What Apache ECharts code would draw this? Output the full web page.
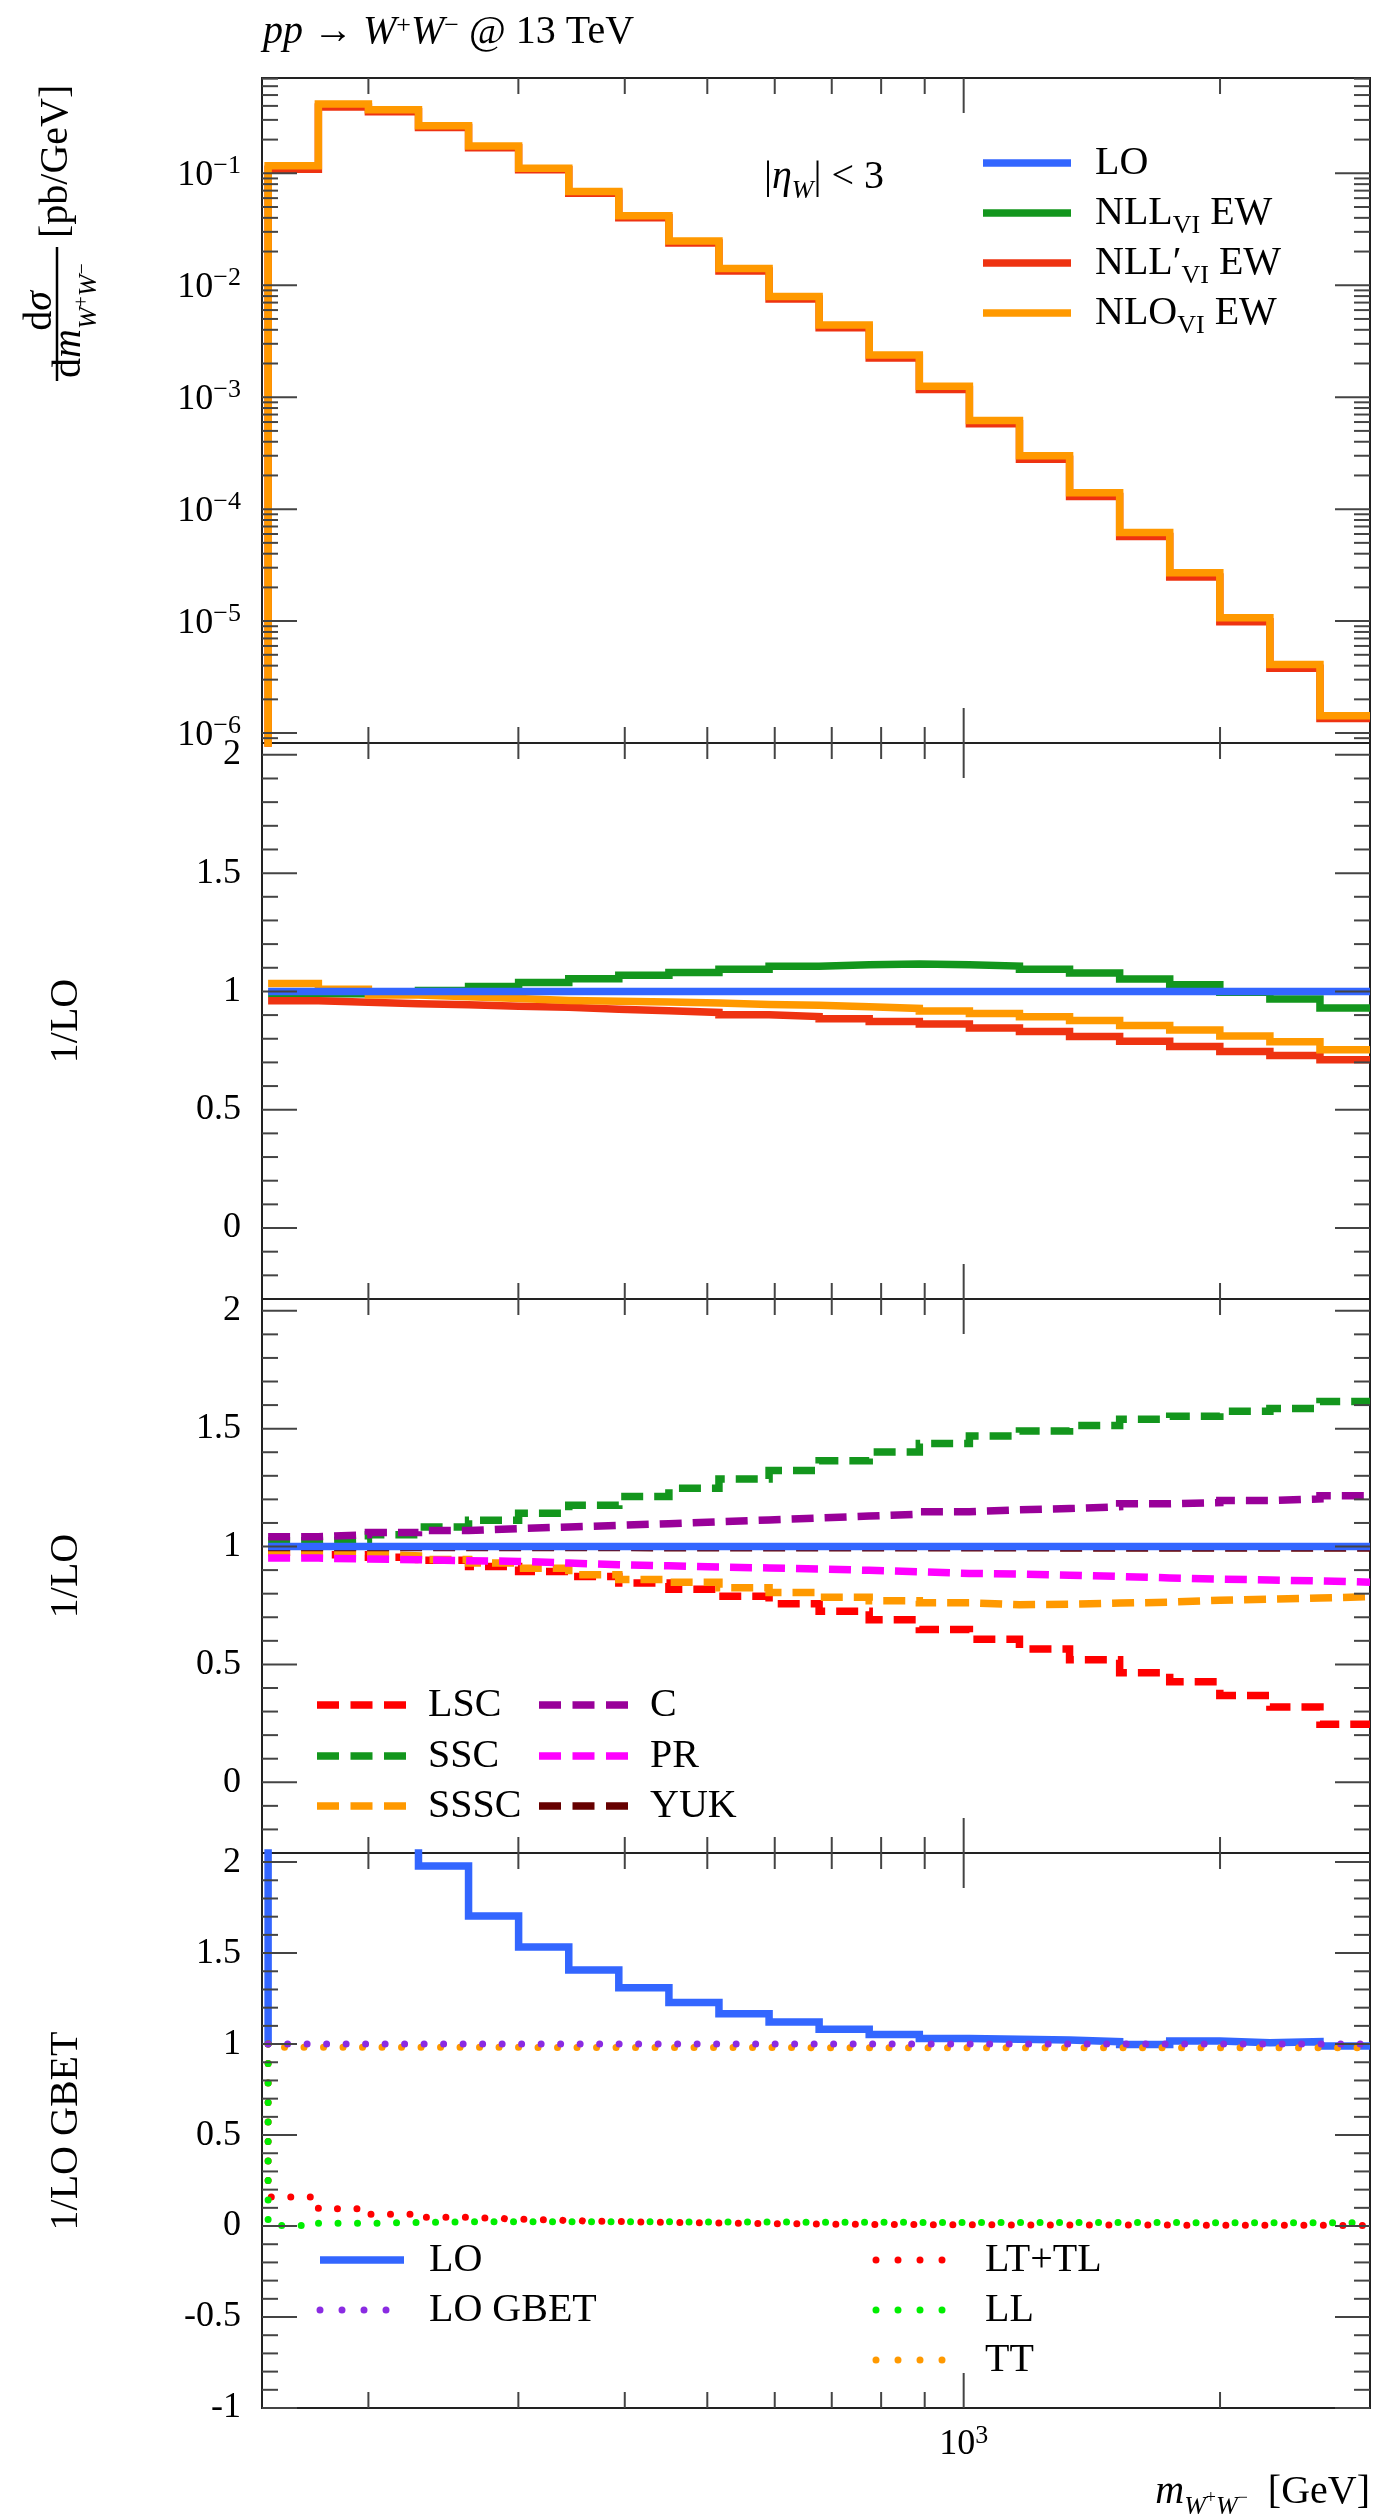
<!DOCTYPE html>
<html>
<head>
<meta charset="utf-8">
<title>pp → W+W− @ 13 TeV</title>
<script src="https://cdn.jsdelivr.net/npm/echarts@6.0.0/dist/echarts.min.js"></script>
<style>
html, body { margin: 0; padding: 0; background: #fff; }
#chart { width: 1373px; height: 2518px; }
</style>
</head>
<body>
<div id="chart"></div>
<script>
// ---------- binning in m(W+W-) [GeV], logarithmic ----------
const binEdges = [152.5, 174.7, 200, 229.0, 262.2, 300.2, 343.8, 393.6, 450.7, 516.0, 590.9,
  676.5, 774.6, 887.0, 1015.6, 1162.8, 1331.5, 1524.6, 1745.6, 1998.8, 2288.6, 2620.4, 3000];

// ---------- panel 1: dsigma/dm [pb/GeV] ----------
const xsecNLLprime = [0.1086, 0.392, 0.3555, 0.2568, 0.1687, 0.1077, 0.0664, 0.0401, 0.0238, 0.01344, 0.00752,
  0.00418, 0.002235, 0.001172, 5.78e-4, 2.79e-4, 1.296e-4, 5.71e-5, 2.48e-5, 9.85e-6, 3.80e-6, 1.35e-6];
const xsecNLO = [0.117, 0.415, 0.369, 0.266, 0.175, 0.111, 0.0688, 0.0417, 0.0248, 0.0141, 0.00792,
  0.00442, 0.00238, 0.00125, 6.2e-4, 3.0e-4, 1.4e-4, 6.2e-5, 2.7e-5, 1.07e-5, 4.1e-6, 1.43e-6];

// ---------- panel 2: ratio to LO ----------
const ratioLO = [1, 1, 1, 1, 1, 1, 1, 1, 1, 1, 1, 1, 1, 1, 1, 1, 1, 1, 1, 1, 1, 1];
const ratioNLL = [0.99, 0.99, 0.995, 1.004, 1.021, 1.038, 1.054, 1.068, 1.08, 1.094, 1.106,
  1.113, 1.116, 1.113, 1.107, 1.094, 1.078, 1.052, 1.028, 0.997, 0.968, 0.93];
const ratioNLLprime = [0.961, 0.954, 0.948, 0.944, 0.937, 0.933, 0.925, 0.918, 0.911, 0.901, 0.894,
  0.884, 0.873, 0.862, 0.845, 0.831, 0.81, 0.789, 0.767, 0.746, 0.729, 0.711];
const ratioNLO = [1.034, 1.009, 0.985, 0.978, 0.97, 0.962, 0.958, 0.955, 0.951, 0.945, 0.942,
  0.935, 0.928, 0.917, 0.907, 0.893, 0.877, 0.856, 0.837, 0.812, 0.787, 0.753];

// ---------- panel 3: single EW corrections / LO ----------
const corrLO = [1, 1, 1, 1, 1, 1, 1, 1, 1, 1, 1, 1, 1, 1, 1, 1, 1, 1, 1, 1, 1, 1];
const corrLSC = [0.975, 0.965, 0.955, 0.942, 0.915, 0.894, 0.873, 0.845, 0.819, 0.789, 0.757,
  0.725, 0.689, 0.648, 0.607, 0.565, 0.52, 0.465, 0.426, 0.368, 0.319, 0.246];
const corrSSC = [1.025, 1.03, 1.05, 1.083, 1.111, 1.141, 1.175, 1.212, 1.247, 1.286, 1.323,
  1.364, 1.401, 1.437, 1.469, 1.49, 1.513, 1.54, 1.553, 1.574, 1.586, 1.615];
const corrSSSC = [0.975, 0.968, 0.96, 0.945, 0.93, 0.908, 0.88, 0.86, 0.848, 0.825, 0.805,
  0.785, 0.77, 0.761, 0.753, 0.755, 0.76, 0.764, 0.772, 0.777, 0.782, 0.787];
const corrC = [1.042, 1.05, 1.059, 1.068, 1.076, 1.083, 1.09, 1.097, 1.105, 1.113, 1.121,
  1.129, 1.137, 1.148, 1.156, 1.161, 1.169, 1.181, 1.186, 1.195, 1.202, 1.215];
const corrPR = [0.951, 0.947, 0.944, 0.94, 0.937, 0.93, 0.923, 0.918, 0.913, 0.909, 0.905,
  0.899, 0.893, 0.886, 0.883, 0.878, 0.873, 0.867, 0.862, 0.858, 0.854, 0.849];
const corrYUK = [0.996, 0.996, 0.996, 0.996, 0.996, 0.996, 0.996, 0.995, 0.995, 0.995, 0.995,
  0.995, 0.995, 0.995, 0.995, 0.994, 0.994, 0.994, 0.994, 0.994, 0.994, 0.994];

// ---------- panel 4: polarised pieces / LO GBET ----------
const gbetLO = [3.2, 2.7, 2.3, 1.979, 1.704, 1.534, 1.407, 1.31, 1.228, 1.167, 1.121,
  1.081, 1.053, 1.031, 1.026, 1.022, 1.013, 0.998, 1.017, 1.007, 1.013, 0.989];
const gbetLOGBET = [1, 1, 1, 1, 1, 1, 1, 1, 1, 1, 1, 1, 1, 1, 1, 1, 1, 1, 1, 1, 1, 1];
const gbetLTTL = [0.16, 0.095, 0.065, 0.048, 0.038, 0.03, 0.025, 0.02, 0.016, 0.013, 0.011,
  0.009, 0.008, 0.007, 0.006, 0.006, 0.005, 0.005, 0.004, 0.004, 0.004, 0.003];
const gbetLL = [0.003, 0.015, 0.02, 0.023, 0.024, 0.024, 0.024, 0.023, 0.022, 0.022, 0.021,
  0.021, 0.02, 0.02, 0.02, 0.019, 0.019, 0.019, 0.018, 0.018, 0.018, 0.018];
const gbetTT = [0.983, 0.982, 0.982, 0.982, 0.982, 0.981, 0.981, 0.981, 0.981, 0.981, 0.98,
  0.98, 0.98, 0.98, 0.98, 0.98, 0.98, 0.98, 0.98, 0.98, 0.98, 0.98];
const gbetStart = 1;      // ratio below the first bin
const xsecStart = 1e-8;   // empty region below threshold

// ---------- axis ticks ----------
const xMinorTicks = [200, 300, 400, 500, 600, 700, 800, 900, 2000];
const xMajorTicks = [1000];
const xMajorLabels = [['10', '3']];
const logYMajor = [1e-6, 1e-5, 1e-4, 1e-3, 1e-2, 1e-1];
const logYLabels = [['10', '−6'], ['10', '−5'], ['10', '−4'], ['10', '−3'], ['10', '−2'], ['10', '−1']];
const ratioYMajor = [0, 0.5, 1, 1.5, 2];
const ratioYLabels = ['0', '0.5', '1', '1.5', '2'];
const gbetYMajor = [-1, -0.5, 0, 0.5, 1, 1.5, 2];
const gbetYLabels = ['-1', '-0.5', '0', '0.5', '1', '1.5', '2'];

// ---------- layout ----------
const X_MIN = 150, X_MAX = 3000;
const PLOT_LEFT = 262, PLOT_WIDTH = 1108;
const panels = [
  { top: 78, bottom: 743, type: 'log', min: 8.15e-7, max: 0.71 },
  { top: 743, bottom: 1299, type: 'value', min: -0.3, max: 2.05 },
  { top: 1299, bottom: 1853, type: 'value', min: -0.3, max: 2.05 },
  { top: 1853, bottom: 2408, type: 'value', min: -1, max: 2.05 }
];
const MAJOR_LEN = 35, MINOR_LEN = 16;
const FONT = '"Liberation Serif", "Times New Roman", serif';

const STY = {
  LO:      { color: '#3366ff', width: 7.5 },
  NLL:     { color: '#13961d', width: 7.5 },
  NLLp:    { color: '#ee3311', width: 7.5 },
  NLO:     { color: '#ff9900', width: 7.5 },
  LSC:     { color: '#ff0000', width: 7.5, dash: [22, 11] },
  SSC:     { color: '#13961d', width: 7.5, dash: [22, 11] },
  SSSC:    { color: '#ff9900', width: 7.5, dash: [22, 11] },
  C:       { color: '#990099', width: 7.5, dash: [22, 11] },
  PR:      { color: '#ff00ff', width: 7.5, dash: [22, 11] },
  YUK:     { color: '#660000', width: 7.5, dash: [22, 11] },
  LOGBET:  { color: '#8a2be2', width: 7, dash: [0.001, 19.5], cap: 'round' },
  LTTL:    { color: '#ff0000', width: 7, dash: [0.001, 19.5], cap: 'round' },
  LL:      { color: '#00ee00', width: 7, dash: [0.001, 19.5], cap: 'round' },
  TT:      { color: '#ff9900', width: 7, dash: [0.001, 19.5], cap: 'round' }
};

// ---------- text helpers ----------
const mctx = document.createElement('canvas').getContext('2d');
function fontStr(size, italic) { return (italic ? 'italic ' : '') + size + 'px ' + FONT; }
function textW(t, size, italic) { mctx.font = fontStr(size, italic); return mctx.measureText(t).width; }
// fragments laid out on a shared baseline (dy shifts sub/superscripts)
function textRun(parts, x, baseline, align) {
  const widths = parts.map(p => textW(p.t, p.size, p.italic));
  const total = widths.reduce((a, b) => a + b, 0);
  let cx = align === 'right' ? x - total : (align === 'center' ? x - total / 2 : x);
  const out = [];
  parts.forEach((p, i) => {
    out.push({
      type: 'text', x: cx, y: baseline + (p.dy || 0) - 0.32 * p.size, silent: true,
      style: { text: p.t, font: fontStr(p.size, p.italic), fill: '#000',
        align: 'left', verticalAlign: 'middle', textAlign: 'left', textVerticalAlign: 'middle' }
    });
    cx += widths[i];
  });
  return out;
}
const P = (t, size, italic, dy) => ({ t, size, italic: !!italic, dy: dy || 0 });

// ---------- series builders ----------
function histPoints(values, start) {
  const pts = [];
  if (start !== undefined) pts.push([binEdges[0], start]);
  values.forEach((v, i) => { pts.push([binEdges[i], v]); pts.push([binEdges[i + 1], v]); });
  return pts;
}
function hist(name, gi, values, sty, start) {
  return {
    name, type: 'line', xAxisIndex: gi, yAxisIndex: gi, data: histPoints(values, start),
    showSymbol: false, symbol: 'none', silent: true, animation: false, clip: true, z: 2,
    lineStyle: { color: sty.color, width: sty.width, type: sty.dash || 'solid',
      cap: sty.cap || 'butt', join: 'miter' }
  };
}
function tickLine(x1, y1, x2, y2) {
  return { type: 'line', silent: true, shape: { x1, y1, x2, y2 }, style: { stroke: '#444', lineWidth: 2 } };
}
function yTickSeries(gi, majors, labelFn, minors) {
  const items = majors.map((v, i) => ({ v, major: true, i })).concat(minors.map(v => ({ v, major: false })));
  return {
    type: 'custom', xAxisIndex: gi, yAxisIndex: gi, silent: true, animation: false, z: 6,
    data: items.map(t => [X_MIN, t.v]),
    renderItem(params, api) {
      const t = items[params.dataIndex];
      const cs = params.coordSys;
      const y = api.coord([X_MIN, t.v])[1];
      const len = t.major ? MAJOR_LEN : MINOR_LEN;
      const ch = [tickLine(cs.x, y, cs.x + len, y), tickLine(cs.x + cs.width, y, cs.x + cs.width - len, y)];
      if (t.major) ch.push(...labelFn(t.i, cs.x - 21, y));
      return { type: 'group', children: ch };
    }
  };
}
function xTickSeries(gi, yRef, withLabels) {
  const items = xMinorTicks.map(v => ({ v, major: false })).concat(xMajorTicks.map((v, i) => ({ v, major: true, i })));
  return {
    type: 'custom', xAxisIndex: gi, yAxisIndex: gi, silent: true, animation: false, z: 6,
    data: items.map(t => [t.v, yRef]),
    renderItem(params, api) {
      const t = items[params.dataIndex];
      const cs = params.coordSys;
      const x = api.coord([t.v, yRef])[0];
      const len = t.major ? MAJOR_LEN : MINOR_LEN;
      const ch = [tickLine(x, cs.y, x, cs.y + len), tickLine(x, cs.y + cs.height, x, cs.y + cs.height - len)];
      if (withLabels && t.major) {
        const lb = xMajorLabels[t.i];
        ch.push(...textRun([P(lb[0], 36), P(lb[1], 26, false, -12)], x, cs.y + cs.height + 48, 'center'));
      }
      return { type: 'group', children: ch };
    }
  };
}
function minorRange(lo, hi) {
  const out = [];
  for (let k = Math.round(lo * 10); k <= Math.round(hi * 10); k++) if (k % 5 !== 0) out.push(k / 10);
  return out;
}
function logMinors(lo, hi) {
  const out = [];
  for (let e = -7; e <= 0; e++) for (let m = 2; m <= 9; m++) {
    const v = m * Math.pow(10, e);
    if (v > lo && v < hi) out.push(v);
  }
  return out;
}
const linLabel = labels => (i, x, y) => textRun([P(labels[i], 36)], x, y + 0.32 * 36, 'right');
const logLabel = (i, x, y) => textRun([P(logYLabels[i][0], 36), P(logYLabels[i][1], 26, false, -13)], x, y + 14, 'right');

// ---------- series ----------
const series = [
  // panel 1
  hist('NLL′ EW', 0, xsecNLLprime, STY.NLLp, xsecStart),
  hist('NLO EW', 0, xsecNLO, STY.NLO, xsecStart),
  // panel 2
  hist('NLL EW', 1, ratioNLL, STY.NLL),
  hist('NLL′ EW', 1, ratioNLLprime, STY.NLLp),
  hist('NLO EW', 1, ratioNLO, STY.NLO),
  hist('LO', 1, ratioLO, STY.LO),
  // panel 3
  hist('LSC', 2, corrLSC, STY.LSC),
  hist('SSC', 2, corrSSC, STY.SSC),
  hist('SSSC', 2, corrSSSC, STY.SSSC),
  hist('C', 2, corrC, STY.C),
  hist('PR', 2, corrPR, STY.PR),
  hist('YUK', 2, corrYUK, STY.YUK),
  hist('LO', 2, corrLO, STY.LO),
  // panel 4
  hist('LO', 3, gbetLO, STY.LO, gbetStart),
  hist('TT', 3, gbetTT, STY.TT, gbetStart),
  hist('LT+TL', 3, gbetLTTL, STY.LTTL, gbetStart),
  hist('LL', 3, gbetLL, STY.LL, gbetStart),
  hist('LO GBET', 3, gbetLOGBET, STY.LOGBET, gbetStart),
  // ticks and tick labels
  yTickSeries(0, logYMajor, logLabel, logMinors(panels[0].min, panels[0].max)),
  yTickSeries(1, ratioYMajor, linLabel(ratioYLabels), minorRange(-0.2, 2.0)),
  yTickSeries(2, ratioYMajor, linLabel(ratioYLabels), minorRange(-0.2, 2.0)),
  yTickSeries(3, gbetYMajor, linLabel(gbetYLabels), minorRange(-0.9, 2.0)),
  xTickSeries(0, 1e-3, false),
  xTickSeries(1, 0, false),
  xTickSeries(2, 0, false),
  xTickSeries(3, 0, true)
];

// ---------- legends, titles, axis titles ----------
function sample(x1, x2, y, sty, dash) {
  return { type: 'line', silent: true, shape: { x1, y1: y, x2, y2: y },
    style: { stroke: sty.color, lineWidth: sty.width, lineDash: dash || sty.dash || null, lineCap: sty.cap || 'butt' } };
}
const g = [];
// title
g.push(...textRun([P('pp', 40, true), P(' → ', 40), P('W', 40, true), P('+', 26, false, -11),
  P('W', 40, true), P('−', 26, false, -11), P(' @ 13 TeV', 40)], 263, 45, 'left'));
// cut label
g.push(...textRun([P('|', 40), P('η', 40, true), P('W', 26, true, 9), P('|', 40), P(' < 3', 40)], 764, 190, 'left'));
// legend, panel 1
const leg1 = [
  [STY.LO, [P('LO', 40)]],
  [STY.NLL, [P('NLL', 40), P('VI', 26, false, 8), P(' EW', 40)]],
  [STY.NLLp, [P('NLL′', 40), P('VI', 26, false, 8), P(' EW', 40)]],
  [STY.NLO, [P('NLO', 40), P('VI', 26, false, 8), P(' EW', 40)]]
];
leg1.forEach((e, i) => {
  const y = 163 + 50 * i;
  g.push(sample(983, 1071, y, e[0]));
  g.push(...textRun(e[1], 1095, y + 13, 'left'));
});
// legend, panel 3
const leg3 = [
  [317, 406, 428, 1705, STY.LSC, 'LSC'], [317, 406, 428, 1756, STY.SSC, 'SSC'], [317, 406, 428, 1806, STY.SSSC, 'SSSC'],
  [539, 628, 650, 1705, STY.C, 'C'], [539, 628, 650, 1756, STY.PR, 'PR'], [539, 628, 650, 1806, STY.YUK, 'YUK']
];
leg3.forEach(e => {
  g.push(sample(e[0], e[1], e[3], e[4], [22, 11.5]));
  g.push(...textRun([P(e[5], 40)], e[2], e[3] + 13, 'left'));
});
// legend, panel 4
const leg4 = [
  [317, 407, 429, 2260, STY.LO, 'LO'], [317, 407, 429, 2310, STY.LOGBET, 'LO GBET'],
  [873, 961, 985, 2260, STY.LTTL, 'LT+TL'], [873, 961, 985, 2310, STY.LL, 'LL'], [873, 961, 985, 2360, STY.TT, 'TT']
];
leg4.forEach(e => {
  const dash = e[4].dash ? [0.001, 22] : null;
  g.push(sample(e[0] + 3, e[1] - 3, e[3], e[4], dash));
  g.push(...textRun([P(e[5], 40)], e[2], e[3] + 13, 'left'));
});
// y-axis titles
g.push({
  type: 'group', x: 57, y: 381, rotation: Math.PI / 2, silent: true,
  children: [
    { type: 'line', silent: true, shape: { x1: 0, y1: 0, x2: 134, y2: 0 }, style: { stroke: '#000', lineWidth: 2.5 } },
    ...textRun([P('d', 40), P('σ', 40, true)], 70, -4, 'center'),
    ...textRun([P('d', 40), P('m', 40, true), P('W', 26, true, 15), P('+', 20, false, 7),
      P('W', 26, true, 15), P('−', 20, false, 7)], 3, 25, 'left'),
    ...textRun([P('[pb/GeV]', 40)], 143, 12, 'left')
  ]
});
[[1021, '1/LO'], [1576, '1/LO'], [2131, '1/LO GBET']].forEach(([cy, t]) => {
  g.push({
    type: 'group', x: 66, y: cy, rotation: Math.PI / 2, silent: true,
    children: textRun([P(t, 40)], 0, 0.32 * 40, 'center')
  });
});
// x-axis title
g.push(...textRun([P('m', 40, true), P('W', 26, true, 10), P('+', 18, false, -1), P('W', 26, true, 10),
  P('−', 18, false, -1), P('  [GeV]', 40)], 1370, 2505, 'right'));

// ---------- chart ----------
const chart = echarts.init(document.getElementById('chart'), null, { renderer: 'canvas', width: 1373, height: 2518 });
chart.setOption({
  animation: false,
  backgroundColor: '#ffffff',
  grid: panels.map(p => ({ left: PLOT_LEFT, top: p.top, width: PLOT_WIDTH, height: p.bottom - p.top,
    show: true, borderColor: '#222', borderWidth: 2, backgroundColor: 'transparent',
    containLabel: false, outerBoundsMode: 'none' })),
  xAxis: panels.map((p, i) => ({ type: 'log', logBase: 10, gridIndex: i, min: X_MIN, max: X_MAX, show: false })),
  yAxis: panels.map((p, i) => ({ type: p.type, logBase: 10, gridIndex: i, min: p.min, max: p.max, show: false, scale: true })),
  series,
  graphic: { elements: g }
});
</script>
</body>
</html>
